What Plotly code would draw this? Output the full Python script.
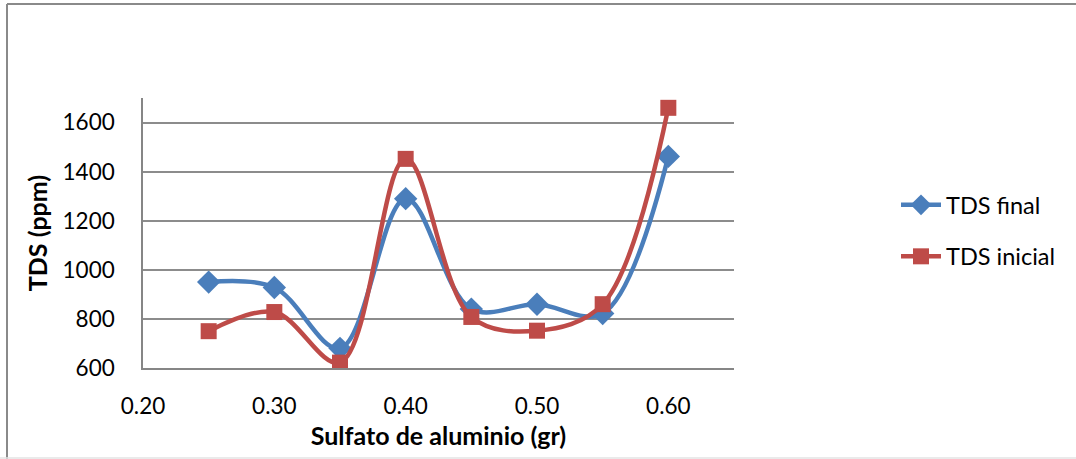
import plotly.graph_objects as go

# Data
x_vals = [0.25, 0.30, 0.35, 0.40, 0.45, 0.50, 0.55, 0.60]
tds_final = [950, 928, 680, 1290, 840, 860, 822, 1462]
tds_inicial = [750, 828, 622, 1452, 808, 752, 860, 1660]

W, H = 1076, 459
L, R, T, B = 143, 734, 98, 368

FONT = "Lato, 'Open Sans', sans-serif"
BLUE = "#4A7EBB"
RED = "#BE4B48"


def px_x(px):
    return (px - L) / (R - L)


def px_y(py):
    return (B - py) / (B - T)


fig = go.Figure()
fig.add_trace(go.Scatter(
    x=x_vals, y=tds_final, name="TDS final", mode="lines+markers",
    legendgroup="a",
    line=dict(color=BLUE, width=4.5, shape="spline", smoothing=1.0),
    marker=dict(symbol="diamond", size=18, color=BLUE),
))
fig.add_trace(go.Scatter(
    x=x_vals, y=tds_inicial, name="TDS inicial", mode="lines+markers",
    legendgroup="b",
    line=dict(color=RED, width=4.5, shape="spline", smoothing=1.0),
    marker=dict(symbol="square", size=16, color=RED),
))

fig.update_layout(
    width=W, height=H,
    margin=dict(l=L, r=W - R, t=T, b=H - B),
    paper_bgcolor="white", plot_bgcolor="white",
    font=dict(family=FONT, size=22, color="black"),
    showlegend=True,
    legend=dict(
        x=px_x(896), xanchor="left", y=px_y(231), yanchor="middle",
        font=dict(family=FONT, size=23.5, color="black"),
        tracegroupgap=18, itemwidth=40, bgcolor="rgba(0,0,0,0)",
    ),
    xaxis=dict(
        range=[0.2, 0.65], tick0=0.2, dtick=0.1, tickformat=".2f",
        showgrid=False, zeroline=False,
        showline=True, linecolor="#868686", linewidth=1.5,
        ticks="", ticklabelstandoff=17,
        tickfont=dict(family=FONT, size=22.5, color="black"),
        title=dict(text="<b>Sulfato de aluminio (gr)</b>",
                   font=dict(family=FONT, size=25, color="black"), standoff=10),
    ),
    yaxis=dict(
        range=[600, 1700], tick0=600, dtick=200,
        showgrid=True, gridcolor="#8C8C8C", gridwidth=1.5,
        zeroline=False,
        showline=True, linecolor="#868686", linewidth=1.5,
        ticks="", ticklabelstandoff=22,
        tickfont=dict(family=FONT, size=22.5, color="black"),
        title=dict(text="<b>TDS (ppm)</b>",
                   font=dict(family=FONT, size=25, color="black"), standoff=8),
    ),
)

# Outer chart border (top and left in gray, bottom light)
fig.add_shape(type="line", xref="paper", yref="paper",
              x0=px_x(7), x1=px_x(W + 5), y0=px_y(4), y1=px_y(4),
              line=dict(color="#8A8A8A", width=2))
fig.add_shape(type="line", xref="paper", yref="paper",
              x0=px_x(7), x1=px_x(7), y0=px_y(4), y1=px_y(H + 5),
              line=dict(color="#8A8A8A", width=2))
fig.add_shape(type="line", xref="paper", yref="paper",
              x0=px_x(0), x1=px_x(W + 5), y0=px_y(458), y1=px_y(458),
              line=dict(color="#E3E3E3", width=1.5))

fig.write_html("out.html")
